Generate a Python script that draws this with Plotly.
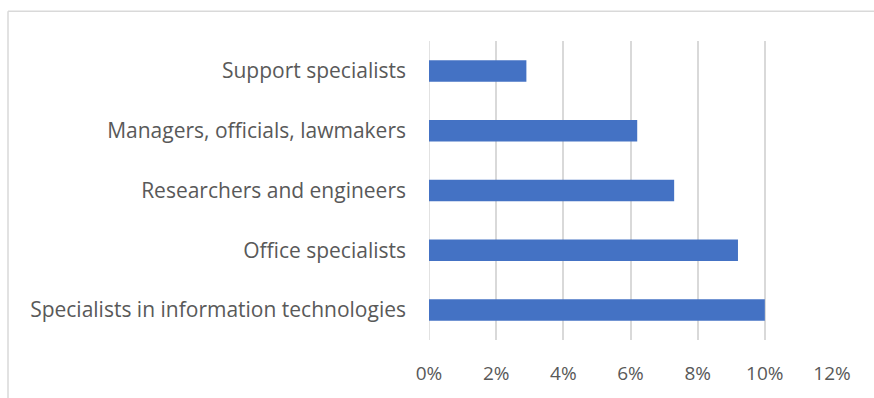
import plotly.graph_objects as go

categories = [
    "Specialists in information technologies",
    "Office specialists",
    "Researchers and engineers",
    "Managers, officials, lawmakers",
    "Support specialists",
]
shares = [10.0, 9.2, 7.3, 6.2, 2.9]
ticks = [0, 2, 4, 6, 8, 10, 12]
tick_labels = ["0%", "2%", "4%", "6%", "8%", "10%", "12%"]

W, H = 874, 398
L, R, T, B = 429, 42, 41, 56
pw = W - L - R
ph = H - T - B

fig = go.Figure()

fig.add_trace(
    go.Bar(
        x=shares,
        y=categories,
        orientation="h",
        marker_color="#4472C4",
        marker_line_width=0,
        width=0.36,
        hoverinfo="x+y",
    )
)

# Excel-style chart border (top and left edges visible)
px = lambda v: (v - L) / pw
py = lambda v: (H - B - v) / ph
grey = dict(color="#d9d9d9", width=1.5)
fig.add_shape(type="line", xref="paper", yref="paper",
              x0=px(8), x1=px(W + 5), y0=py(11), y1=py(11), line=grey)
fig.add_shape(type="line", xref="paper", yref="paper",
              x0=px(8), x1=px(8), y0=py(11), y1=py(H + 5), line=grey)

fig.update_xaxes(
    range=[0, 12],
    tickvals=ticks,
    ticktext=tick_labels,
    showgrid=True,
    gridcolor="#d9d9d9",
    gridwidth=1.5,
    zeroline=False,
    showline=False,
    ticklabelstandoff=20,
    tickfont=dict(size=19, color="#595959"),
    fixedrange=True,
)
fig.update_yaxes(
    showgrid=False,
    zeroline=False,
    showline=False,
    ticklabelstandoff=22,
    tickfont=dict(size=21, color="#595959"),
    fixedrange=True,
)
# 0% line drawn as a grid line
fig.add_vline(x=0, line=grey, layer="below")

fig.update_layout(
    width=W,
    height=H,
    margin=dict(l=L, r=R, t=T, b=B),
    paper_bgcolor="white",
    plot_bgcolor="white",
    font=dict(family="Open Sans, Calibri, sans-serif", color="#595959"),
    showlegend=False,
    bargap=0.64,
)

fig.write_html("out.html", config={"displayModeBar": False},
               post_script="document.body.style.margin='0';")
